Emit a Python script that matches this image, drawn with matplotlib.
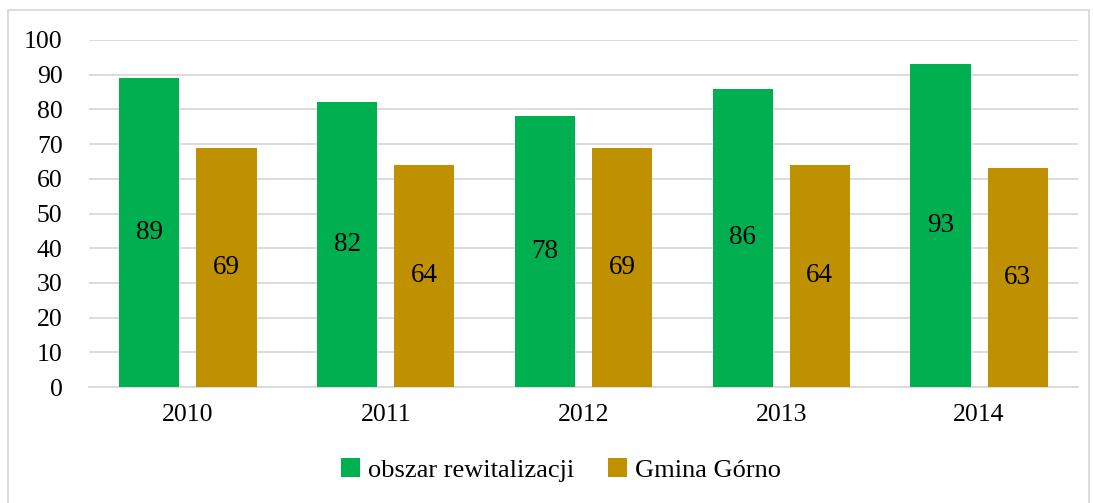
import numpy as np
import matplotlib.pyplot as plt
from matplotlib.patches import Rectangle

plt.rcParams['font.family'] = ['Liberation Serif', 'DejaVu Serif']

lata = ['2010', '2011', '2012', '2013', '2014']
obszar = [89, 82, 78, 86, 93]
gmina = [69, 64, 69, 64, 63]

zielony = '#00B050'
zloty = '#BF9000'

fig = plt.figure(figsize=(10.93, 5.03), dpi=100)
fig.patches.append(Rectangle((8 / 1093, -0.01), 1081 / 1093, 1 - 10 / 503 + 0.01,
                             transform=fig.transFigure, fill=False,
                             edgecolor='#D9D9D9', linewidth=1.3))
ax = fig.add_axes([89 / 1093, 1 - 387 / 503, 989 / 1093, 347 / 503])

x = np.arange(len(lata))
szer = 0.305
b1 = ax.bar(x - 0.195, obszar, szer, color=zielony, label='obszar rewitalizacji', zorder=3)
b2 = ax.bar(x + 0.195, gmina, szer, color=zloty, label='Gmina Górno', zorder=3)
ax.bar_label(b1, label_type='center', fontsize=19.5)
ax.bar_label(b2, label_type='center', fontsize=19.5)

ax.set_xlim(-0.5, len(lata) - 0.5)
ax.set_ylim(0, 100)
ax.set_yticks(range(0, 101, 10))
ax.set_xticks(x)
ax.set_xticklabels(lata)
ax.tick_params(axis='both', length=0, labelsize=18.5)
ax.tick_params(axis='x', pad=12)
ax.tick_params(axis='y', pad=19)
ax.grid(axis='y', color='#D9D9D9', linewidth=1.3, zorder=0)
for s in ['top', 'right', 'left']:
    ax.spines[s].set_visible(False)
ax.spines['bottom'].set_color('#D9D9D9')
ax.spines['bottom'].set_linewidth(1.3)

fig.legend(loc='center', bbox_to_anchor=(561 / 1093, 1 - 470 / 503), ncol=2,
           frameon=False, fontsize=19, handlelength=0.7, handleheight=0.7,
           handletextpad=0.3, columnspacing=1.3)

fig.savefig('out.png', dpi=100)
